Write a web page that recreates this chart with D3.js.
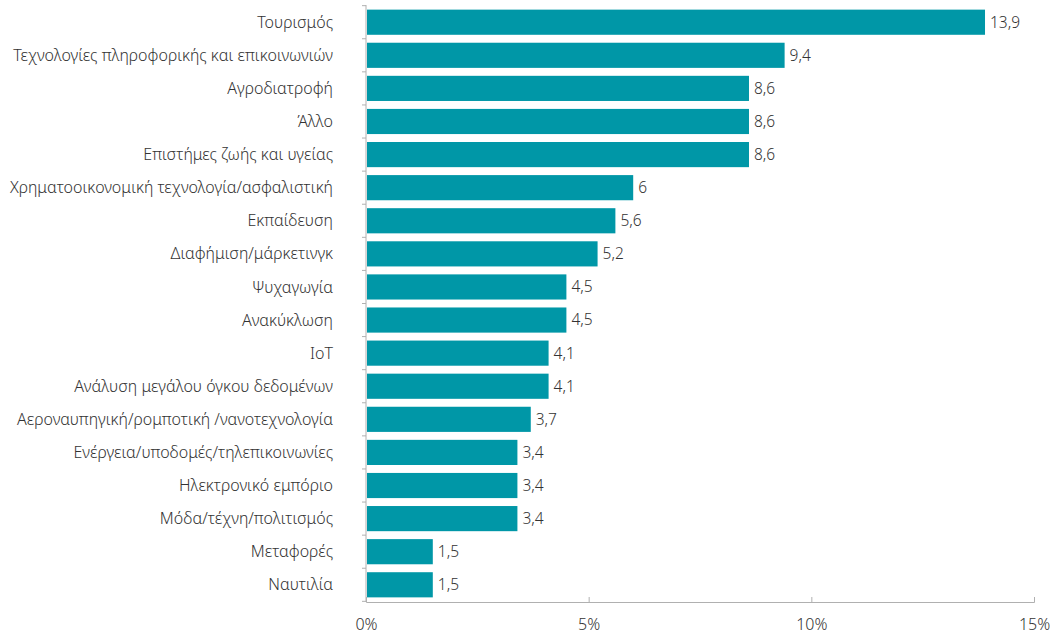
<!DOCTYPE html>
<meta charset="utf-8">
<style>
  body { margin: 0; background: #fff; }
  text { font-family: "Noto Sans", "Lato", sans-serif; font-weight: 300; fill: #333; }
  .axis path, .axis line { stroke: #b0b0b0; }
</style>
<svg width="1056" height="634"></svg>
<script src="https://cdn.jsdelivr.net/npm/d3@7"></script>
<script>
var categories = ["Τουρισμός", "Τεχνολογίες πληροφορικής και επικοινωνιών", "Αγροδιατροφή", "Άλλο",
  "Επιστήμες ζωής και υγείας", "Χρηματοοικονομική τεχνολογία/ασφαλιστική", "Εκπαίδευση",
  "Διαφήμιση/μάρκετινγκ", "Ψυχαγωγία", "Ανακύκλωση", "IoT", "Ανάλυση μεγάλου όγκου δεδομένων",
  "Αεροναυπηγική/ρομποτική /νανοτεχνολογία", "Ενέργεια/υποδομές/τηλεπικοινωνίες",
  "Ηλεκτρονικό εμπόριο", "Μόδα/τέχνη/πολιτισμός", "Μεταφορές", "Ναυτιλία"];
var values = [13.9, 9.4, 8.6, 8.6, 8.6, 6, 5.6, 5.2, 4.5, 4.5, 4.1, 4.1, 3.7, 3.4, 3.4, 3.4, 1.5, 1.5];
var xTicks = [0, 5, 10, 15];

var svg = d3.select("svg"),
  margin = {top: 5, right: 22, bottom: 32, left: 366},
  width = +svg.attr("width") - margin.left - margin.right,
  height = +svg.attr("height") - margin.top - margin.bottom,
  g = svg.append("g").attr("transform", "translate(" + margin.left + "," + margin.top + ")");

var x = d3.scaleLinear().domain([0, 15]).range([0, width]);
var y = d3.scaleBand().domain(categories).range([0, height]).paddingInner(0.24).paddingOuter(0.14);

// x axis: ticks point up, labels below
var xa = g.append("g").attr("class", "axis")
  .attr("transform", "translate(0," + height + ")")
  .call(d3.axisTop(x).tickValues(xTicks).tickSize(5).tickFormat(function(d) { return d + "%"; }));
xa.selectAll("text").attr("y", 23).attr("dy", "0.32em").style("font-size", "16px");

// y axis line with ticks at band boundaries
var ya = g.append("g").attr("class", "axis");
ya.append("line").attr("x1", 0).attr("x2", 0).attr("y1", 0).attr("y2", height);
var step = y.step();
ya.selectAll(".b").data(d3.range(categories.length + 1)).enter().append("line")
  .attr("x1", -4).attr("x2", 0)
  .attr("y1", function(i) { return i * step + y.paddingOuter() * step - y.paddingInner() * step / 2; })
  .attr("y2", function(i) { return i * step + y.paddingOuter() * step - y.paddingInner() * step / 2; });

g.selectAll(".cat").data(categories).enter().append("text")
  .attr("x", -33)
  .attr("y", function(d) { return y(d) + y.bandwidth() / 2; })
  .attr("dy", "0.35em").attr("text-anchor", "end")
  .style("font-size", "16px")
  .text(function(d) { return d; });

g.selectAll(".bar").data(values).enter().append("rect")
  .attr("x", 1)
  .attr("y", function(d, i) { return y(categories[i]); })
  .attr("width", function(d) { return x(d) - 1; })
  .attr("height", y.bandwidth())
  .attr("fill", "#0097a7");

g.selectAll(".val").data(values).enter().append("text")
  .attr("x", function(d) { return x(d) + 5; })
  .attr("y", function(d, i) { return y(categories[i]) + y.bandwidth() / 2; })
  .attr("dy", "0.35em")
  .style("font-size", "15.5px")
  .text(function(d) { return String(d).replace(".", ","); });
</script>
